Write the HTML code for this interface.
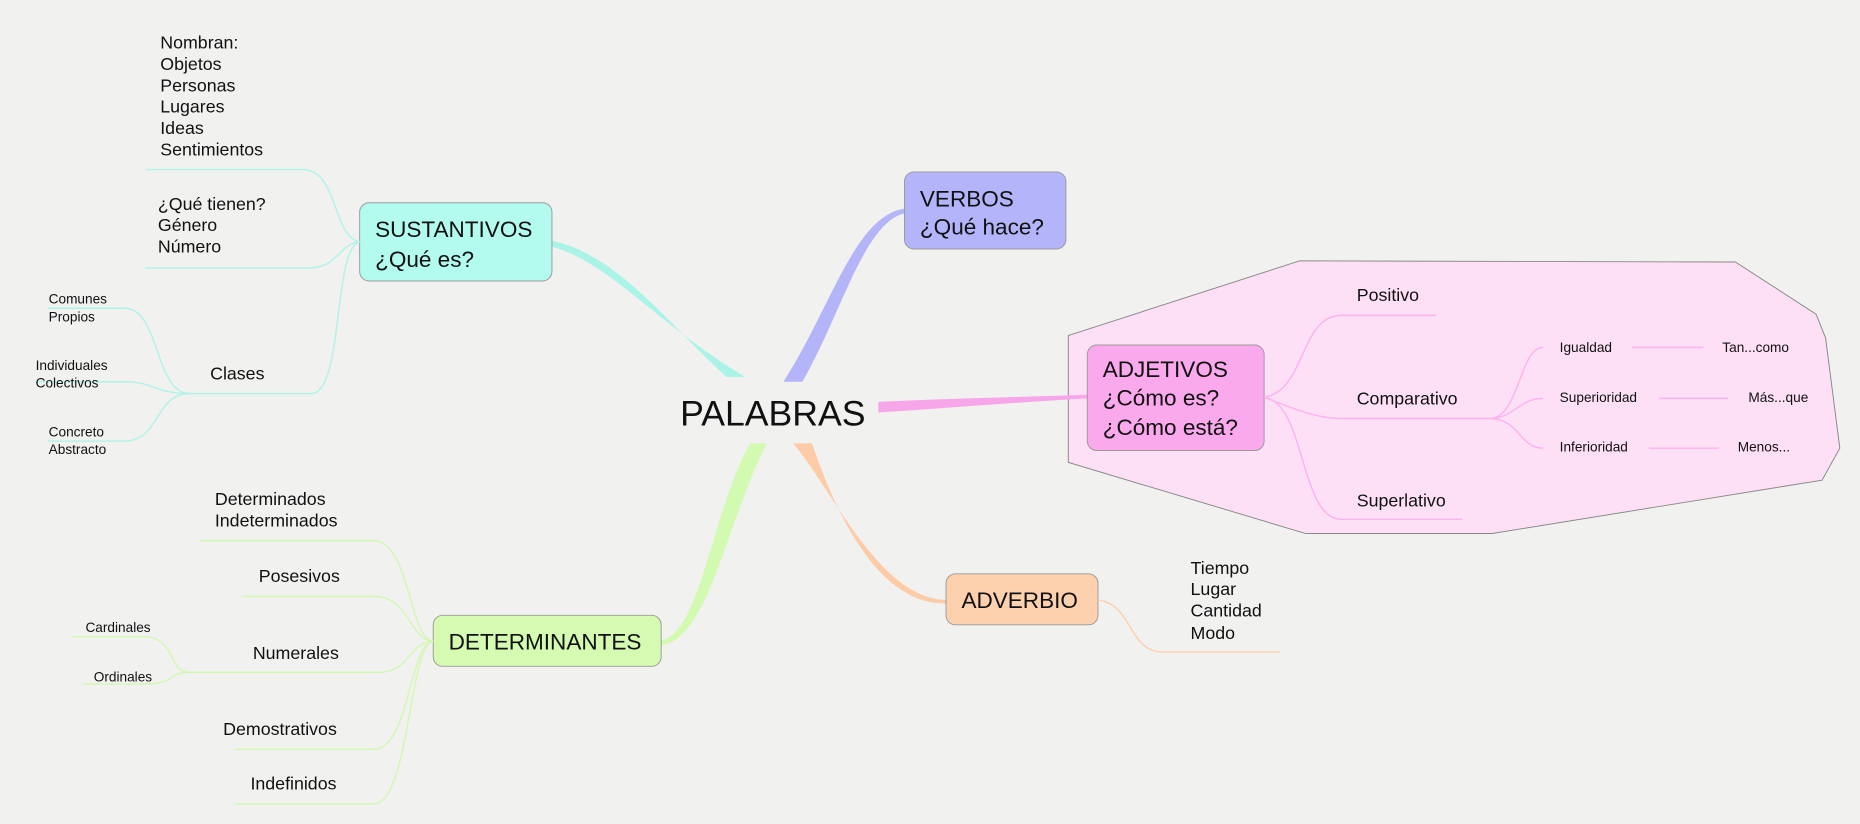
<!DOCTYPE html>
<html><head><meta charset="utf-8"><style>
html,body{margin:0;padding:0;background:#f1f1f0;}
svg{display:block}
text{font-family:"Liberation Sans",sans-serif;fill:#111;}
</style></head><body>
<svg width="1860" height="824" viewBox="0 0 1567 695" preserveAspectRatio="none" xmlns="http://www.w3.org/2000/svg">
<rect width="1567" height="695" fill="#f1f1f0"/>
<polygon points="900,283 1095,220 1462,221 1530,265 1538,285 1550,378 1535,405 1257,450 1100,450 900,390" fill="#fde0f6" stroke="#888" stroke-width="0.8"/>
<path d="M612,318 C560,270 520,215 465,203 L465,208 C515,222 555,275 628,318 Z" fill="#a9f3e7"/>
<path d="M660,322 C700,260 720,182 762,176 L762,180 C728,188 710,262 676,322 Z" fill="#b4b4f9"/>
<path d="M740,339 C800,336 860,335 916,333 L916,336 C860,339 800,344 740,348 Z" fill="#f8a6ea"/>
<path d="M668,374 C700,410 740,505 797,506 L797,509 C735,510 700,420 684,374 Z" fill="#fdcba6"/>
<path d="M632,374 C600,430 590,535 557,540 L557,544 C597,540 612,440 646,374 Z" fill="#d2fab0"/>
<rect x="303" y="171" width="162" height="66" rx="8" fill="#b3fbef" stroke="#9a9a9a" stroke-width="0.8"/>
<text x="316" y="200" font-size="19">SUSTANTIVOS</text><text x="316" y="225" font-size="19">¿Qué es?</text>
<rect x="762" y="145" width="136" height="65" rx="8" fill="#b4b4fa" stroke="#9a9a9a" stroke-width="0.8"/>
<text x="775" y="174" font-size="19">VERBOS</text><text x="775" y="198" font-size="19">¿Qué hace?</text>
<rect x="916" y="291" width="149" height="89" rx="8" fill="#f9a9ec" stroke="#9a9a9a" stroke-width="0.8"/>
<text x="929" y="318" font-size="19">ADJETIVOS</text><text x="929" y="342" font-size="19">¿Cómo es?</text><text x="929" y="367" font-size="19">¿Cómo está?</text>
<rect x="797" y="484" width="128" height="43" rx="8" fill="#fdd0ae" stroke="#9a9a9a" stroke-width="0.8"/>
<text x="810" y="513" font-size="19">ADVERBIO</text>
<rect x="365" y="519" width="192" height="43" rx="8" fill="#d4fbb1" stroke="#9a9a9a" stroke-width="0.8"/>
<text x="378" y="548" font-size="19">DETERMINANTES</text>
<text x="573" y="359" font-size="30">PALABRAS</text>
<g fill="none" stroke="#b0f3e8" stroke-width="1.2">
<path d="M123,143 L255,143 C285,143 280,200 303,204"/>
<path d="M122,226 L260,226 C285,226 285,206 303,204"/>
<path d="M160,332 L262,332 C290,332 280,210 303,204"/>
<path d="M160,332 C130,332 135,260 105,260 L40,260"/>
<path d="M160,332 C130,332 130,322 105,322 L30,322"/>
<path d="M160,332 C130,332 135,372 105,372 L40,372"/>
</g>
<g font-size="15">
<text x="135" y="41">Nombran:</text><text x="135" y="59">Objetos</text><text x="135" y="77">Personas</text><text x="135" y="95">Lugares</text><text x="135" y="113">Ideas</text><text x="135" y="131">Sentimientos</text>
<text x="133" y="177">¿Qué tienen?</text><text x="133" y="195">Género</text><text x="133" y="213">Número</text>
<text x="177" y="320">Clases</text>
</g>
<g font-size="11.5">
<text x="41" y="256">Comunes</text><text x="41" y="271">Propios</text>
<text x="30" y="312">Individuales</text><text x="30" y="327">Colectivos</text>
<text x="41" y="368">Concreto</text><text x="41" y="383">Abstracto</text>
</g>
<g fill="none" stroke="#d2f8b2" stroke-width="1.2">
<path d="M168,456 L315,456 C345,456 345,540 365,541"/>
<path d="M205,503 L315,503 C345,503 345,540 365,541"/>
<path d="M160,567 L320,567 C345,567 345,541 365,541"/>
<path d="M198,632 L315,632 C345,632 345,541 365,541"/>
<path d="M198,678 L315,678 C345,678 345,541 365,541"/>
<path d="M160,567 C140,567 150,537 120,537 L60,537"/>
<path d="M160,567 C140,567 150,577 120,577 L70,577"/>
</g>
<g font-size="15">
<text x="181" y="426">Determinados</text><text x="181" y="444">Indeterminados</text>
<text x="218" y="491">Posesivos</text><text x="213" y="556">Numerales</text>
<text x="188" y="620">Demostrativos</text><text x="211" y="666">Indefinidos</text>
</g>
<g font-size="11.5"><text x="72" y="533">Cardinales</text><text x="79" y="575">Ordinales</text></g>
<g fill="none" stroke="#fbb3ed" stroke-width="1.2">
<path d="M1065,335 C1100,330 1095,266 1130,266 L1210,266"/>
<path d="M1065,335 C1090,345 1110,353 1130,353 L1255,353"/>
<path d="M1065,335 C1100,340 1095,438 1130,438 L1232,438"/>
<path d="M1255,353 C1280,353 1280,293 1300,293"/>
<path d="M1255,353 C1275,353 1280,336 1300,336"/>
<path d="M1255,353 C1280,353 1280,378 1300,378"/>
<path d="M1375,293 L1435,293"/><path d="M1398,336 L1456,336"/><path d="M1389,378 L1448,378"/>
</g>
<g font-size="15"><text x="1143" y="254">Positivo</text><text x="1143" y="341">Comparativo</text><text x="1143" y="427">Superlativo</text></g>
<g font-size="11.5"><text x="1314" y="297">Igualdad</text><text x="1451" y="297">Tan...como</text>
<text x="1314" y="339">Superioridad</text><text x="1473" y="339">Más...que</text>
<text x="1314" y="381">Inferioridad</text><text x="1464" y="381">Menos...</text></g>
<path d="M925,506 C955,510 950,550 980,550 L1078,550" fill="none" stroke="#fdd0ae" stroke-width="1.2"/>
<g font-size="15"><text x="1003" y="484">Tiempo</text><text x="1003" y="502">Lugar</text><text x="1003" y="520">Cantidad</text><text x="1003" y="539">Modo</text></g>
</svg>
</body></html>
